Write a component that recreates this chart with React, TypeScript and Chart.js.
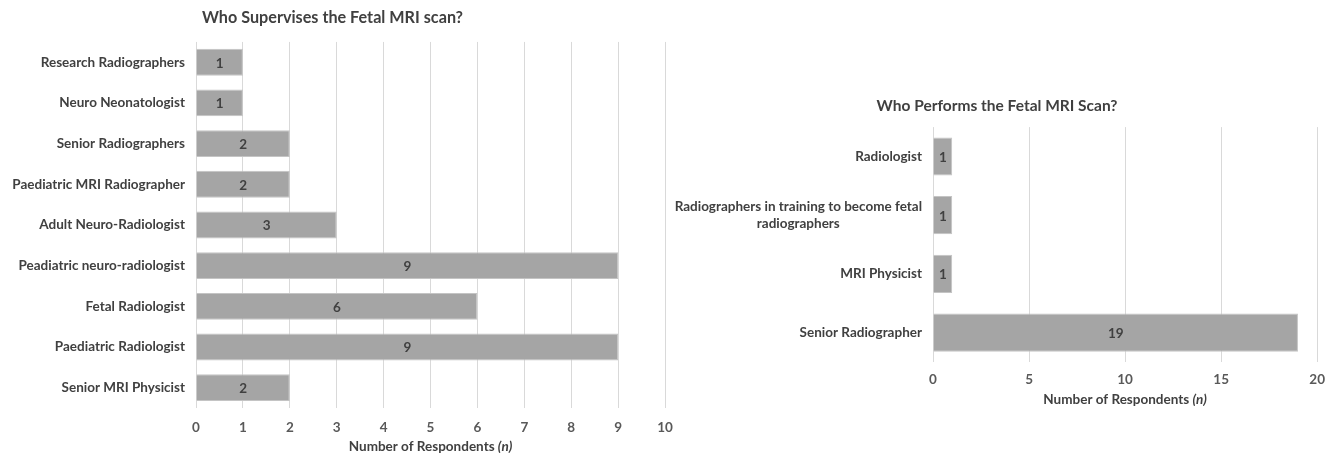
import React, { useEffect, useRef } from "react";
import { Chart, registerables } from "chart.js";

Chart.register(...registerables);

const supervisesCategories: (string | string[])[] = [
  "Research Radiographers",
  "Neuro Neonatologist",
  "Senior Radiographers",
  "Paediatric MRI Radiographer",
  "Adult Neuro-Radiologist",
  "Peadiatric neuro-radiologist",
  "Fetal Radiologist",
  "Paediatric Radiologist",
  "Senior MRI Physicist",
];
const supervisesValues = [1, 1, 2, 2, 3, 9, 6, 9, 2];

const performsCategories: (string | string[])[] = [
  "Radiologist",
  ["Radiographers in training to become fetal", "radiographers"],
  "MRI Physicist",
  "Senior Radiographer",
];
const performsValues = [1, 1, 1, 19];

const FONT = "Lato, 'Open Sans', sans-serif";
const TEXT = "#404040";
const BAR = "#a5a5a5";
const BAR_BORDER = "#c4c4c4";
const GRID = "#d9d9d9";
const LABEL_SIZE = 13.5;

const valueLabels = {
  id: "valueLabels",
  afterDatasetsDraw(chart: any) {
    const ctx = chart.ctx;
    const meta = chart.getDatasetMeta(0);
    const data = chart.data.datasets[0].data;
    ctx.save();
    ctx.font = `bold 13.5px ${FONT}`;
    ctx.fillStyle = TEXT;
    ctx.textAlign = "center";
    ctx.textBaseline = "middle";
    meta.data.forEach((bar: any, i: number) => {
      const cx = (bar.x + bar.base) / 2;
      ctx.fillText(String(data[i]), cx, bar.y + 1);
    });
    ctx.restore();
  },
};

// Category labels: each label block is right-aligned to the axis, lines centered inside the block
const categoryLabels = {
  id: "categoryLabels",
  afterDraw(chart: any) {
    const ctx = chart.ctx;
    const yScale = chart.scales.y;
    const labels = chart.data.labels as (string | string[])[];
    const rightEdge = chart.chartArea.left - 11;
    const lh = 17;
    ctx.save();
    ctx.font = `bold ${LABEL_SIZE}px ${FONT}`;
    ctx.fillStyle = TEXT;
    ctx.textAlign = "center";
    ctx.textBaseline = "middle";
    labels.forEach((lab, i) => {
      const lines = Array.isArray(lab) ? lab : [lab];
      const w = Math.max(...lines.map((l) => ctx.measureText(l).width));
      const cx = rightEdge - w / 2;
      const cy = yScale.getPixelForValue(i);
      const y0 = cy - ((lines.length - 1) * lh) / 2;
      lines.forEach((l, j) => ctx.fillText(l, cx, y0 + j * lh));
    });
    ctx.restore();
  },
};

function makeAxisTitle(offset: number) {
  return {
    id: "axisTitle",
    afterDraw(chart: any) {
      const ctx = chart.ctx;
      const { left, right, bottom } = chart.chartArea;
      const a = "Number of Respondents ";
      const b = "(n)";
      ctx.save();
      ctx.fillStyle = TEXT;
      ctx.textBaseline = "middle";
      ctx.textAlign = "left";
      ctx.font = `bold 13.5px ${FONT}`;
      const wa = ctx.measureText(a).width;
      ctx.font = `italic bold 13.5px ${FONT}`;
      const wb = ctx.measureText(b).width;
      const x0 = (left + right) / 2 - (wa + wb) / 2;
      const y = bottom + offset;
      ctx.font = `bold 13.5px ${FONT}`;
      ctx.fillText(a, x0, y);
      ctx.font = `italic bold 13.5px ${FONT}`;
      ctx.fillText(b, x0 + wa, y);
      ctx.restore();
    },
  };
}

type Cfg = {
  labels: (string | string[])[];
  values: number[];
  title: string;
  titleSize: number;
  titlePadTop: number;
  titlePadBottom: number;
  max: number;
  step: number;
  yWidth: number;
  xHeight: number;
  padLeft: number;
  padRight: number;
  barPct: number;
  tickPad: number;
  axisTitleOffset: number;
};

function BarChart({ cfg, width, height }: { cfg: Cfg; width: number; height: number }) {
  const ref = useRef<HTMLCanvasElement>(null);
  useEffect(() => {
    if (!ref.current) return;
    const chart = new Chart(ref.current, {
      type: "bar",
      data: {
        labels: cfg.labels,
        datasets: [
          {
            data: cfg.values,
            backgroundColor: BAR,
            borderColor: BAR_BORDER,
            borderWidth: 1,
            barPercentage: cfg.barPct,
            categoryPercentage: 1,
          },
        ],
      },
      options: {
        indexAxis: "y",
        responsive: false,
        animation: false,
        layout: { padding: { left: cfg.padLeft, right: cfg.padRight, top: 0, bottom: 0 } },
        plugins: {
          legend: { display: false },
          tooltip: { enabled: false },
          title: {
            display: true,
            text: cfg.title,
            color: TEXT,
            font: { family: FONT, size: cfg.titleSize, weight: "bold", lineHeight: 1.2 },
            padding: { top: cfg.titlePadTop, bottom: cfg.titlePadBottom },
          },
        },
        scales: {
          x: {
            min: 0,
            max: cfg.max,
            ticks: {
              stepSize: cfg.step,
              color: "#595959",
              font: { family: FONT, size: 13.5, weight: "bold" },
              padding: cfg.tickPad,
            },
            grid: { color: GRID, drawTicks: false, lineWidth: 1 },
            border: { display: false },
            afterFit(scale: any) {
              scale.height = cfg.xHeight;
            },
          },
          y: {
            ticks: { display: false, autoSkip: false },
            grid: { display: false, drawTicks: false },
            border: { display: false },
            afterFit(scale: any) {
              scale.width = cfg.yWidth;
            },
          },
        },
      },
      plugins: [valueLabels, categoryLabels, makeAxisTitle(cfg.axisTitleOffset)],
    } as any);
    return () => chart.destroy();
  }, [cfg]);
  return <canvas ref={ref} width={width} height={height} style={{ display: "block", width, height }} />;
}

const leftCfg: Cfg = {
  labels: supervisesCategories,
  values: supervisesValues,
  title: "Who Supervises the Fetal MRI scan?",
  titleSize: 16.2,
  titlePadTop: 8,
  titlePadBottom: 14.5,
  max: 10,
  step: 1,
  yWidth: 196,
  xHeight: 48,
  padLeft: 0,
  padRight: 21,
  barPct: 0.66,
  tickPad: 12,
  axisTitleOffset: 39,
};

const rightCfg: Cfg = {
  labels: performsCategories,
  values: performsValues,
  title: "Who Performs the Fetal MRI Scan?",
  titleSize: 15.5,
  titlePadTop: 96.5,
  titlePadBottom: 12,
  max: 20,
  step: 5,
  yWidth: 258,
  xHeight: 94,
  padLeft: 10,
  padRight: 16,
  barPct: 0.65,
  tickPad: 10,
  axisTitleOffset: 38,
};

export default function App() {
  return (
    <div style={{ position: "absolute", left: 0, top: 0, width: 1335, height: 456, background: "#fff" }}>
      <div style={{ position: "absolute", left: 0, top: 0 }}>
        <BarChart cfg={leftCfg} width={686} height={456} />
      </div>
      <div style={{ position: "absolute", left: 665, top: 0 }}>
        <BarChart cfg={rightCfg} width={670} height={456} />
      </div>
    </div>
  );
}
